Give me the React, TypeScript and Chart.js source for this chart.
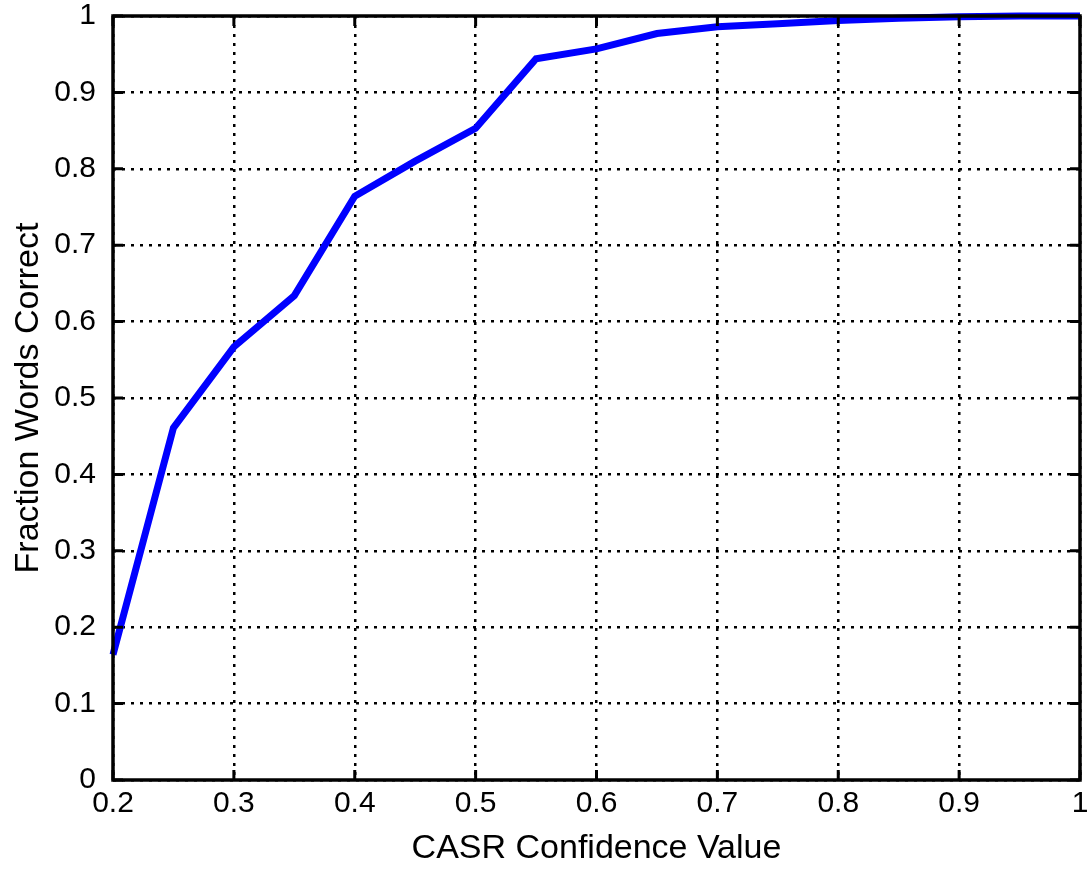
import React, { useEffect, useRef } from "react";
import { Chart, registerables } from "chart.js";

Chart.register(...registerables);

const xValues = [0.2, 0.25, 0.3, 0.35, 0.4, 0.45, 0.5, 0.55, 0.6, 0.65, 0.7, 0.75, 0.8, 0.85, 0.9, 0.95, 1.0];
const fractionCorrect = [0.164, 0.461, 0.567, 0.634, 0.764, 0.81, 0.853, 0.944, 0.957, 0.977, 0.986, 0.99, 0.994, 0.997, 0.999, 1.0, 1.0];
const xTickValues = [0.2, 0.3, 0.4, 0.5, 0.6, 0.7, 0.8, 0.9, 1.0];
const xTickLabels = ["0.2", "0.3", "0.4", "0.5", "0.6", "0.7", "0.8", "0.9", "1"];
const yTickValues = [0, 0.1, 0.2, 0.3, 0.4, 0.5, 0.6, 0.7, 0.8, 0.9, 1.0];
const yTickLabels = ["0", "0.1", "0.2", "0.3", "0.4", "0.5", "0.6", "0.7", "0.8", "0.9", "1"];
const xTitle = "CASR Confidence Value";
const yTitle = "Fraction Words Correct";

const FONT = "'Liberation Sans', Arial, Helvetica, sans-serif";

const boxPlugin = {
  id: "matlabBox",
  afterDatasetsDraw(chart: any) {
    const { ctx, chartArea } = chart;
    const xs = chart.scales.x;
    const ys = chart.scales.y;
    ctx.save();
    ctx.strokeStyle = "#000";
    ctx.lineWidth = 3;
    ctx.setLineDash([]);
    const tl = 10;
    ctx.beginPath();
    xTickValues.forEach((v) => {
      const px = xs.getPixelForValue(v);
      ctx.moveTo(px, chartArea.bottom);
      ctx.lineTo(px, chartArea.bottom - tl);
      ctx.moveTo(px, chartArea.top);
      ctx.lineTo(px, chartArea.top + tl);
    });
    yTickValues.forEach((v) => {
      const py = ys.getPixelForValue(v);
      ctx.moveTo(chartArea.left, py);
      ctx.lineTo(chartArea.left + tl, py);
      ctx.moveTo(chartArea.right, py);
      ctx.lineTo(chartArea.right - tl, py);
    });
    ctx.stroke();
    ctx.lineWidth = 3.5;
    ctx.strokeRect(chartArea.left, chartArea.top, chartArea.right - chartArea.left, chartArea.bottom - chartArea.top);
    ctx.restore();
  },
};

export default function App() {
  const ref = useRef<HTMLCanvasElement>(null);
  useEffect(() => {
    document.body.style.margin = "0";
    const canvas = ref.current!;
    const chart = new Chart(canvas, {
      type: "line",
      data: {
        datasets: [
          {
            data: xValues.map((x, i) => ({ x, y: fractionCorrect[i] })),
            borderColor: "#0000ff",
            borderWidth: 7,
            pointRadius: 0,
            tension: 0,
            clip: 4,
          },
        ],
      },
      options: {
        responsive: false,
        animation: false,
        plugins: { legend: { display: false }, tooltip: { enabled: false } },
        layout: { padding: { left: 0, top: 16, right: 9, bottom: 0 } },
        scales: {
          x: {
            type: "linear",
            min: 0.2,
            max: 1.0,
            afterBuildTicks: (s: any) => {
              s.ticks = xTickValues.map((v) => ({ value: v }));
            },
            afterFit: (s: any) => {
              s.height = 95;
              s.paddingLeft = 0;
              s.paddingRight = 0;
            },
            ticks: {
              color: "#000",
              font: { family: FONT, size: 30 },
              padding: 6,
              maxRotation: 0,
              autoSkip: false,
              callback: (v: any) => {
                const i = xTickValues.findIndex((t) => Math.abs(t - v) < 1e-6);
                return i >= 0 ? xTickLabels[i] : "";
              },
            },
            grid: {
              color: "#000",
              lineWidth: 2.5,
              tickLength: 0,
              drawTicks: false,
            },
            border: { display: false, dash: [3, 6] },
            title: {
              display: true,
              text: xTitle,
              color: "#000",
              font: { family: FONT, size: 34 },
              padding: { top: 0, bottom: 6 },
            },
          },
          y: {
            type: "linear",
            min: 0,
            max: 1,
            afterBuildTicks: (s: any) => {
              s.ticks = yTickValues.map((v) => ({ value: v }));
            },
            afterFit: (s: any) => {
              s.width = 113;
              s.paddingTop = 0;
              s.paddingBottom = 0;
            },
            ticks: {
              color: "#000",
              font: { family: FONT, size: 30 },
              padding: 17,
              autoSkip: false,
              callback: (v: any) => {
                const i = yTickValues.findIndex((t) => Math.abs(t - v) < 1e-6);
                return i >= 0 ? yTickLabels[i] : "";
              },
            },
            grid: {
              color: "#000",
              lineWidth: 2.5,
              tickLength: 0,
              drawTicks: false,
            },
            border: { display: false, dash: [3, 6] },
            title: {
              display: true,
              text: yTitle,
              color: "#000",
              font: { family: FONT, size: 34 },
              padding: { top: 8, bottom: 0 },
            },
          },
        },
      },
      plugins: [boxPlugin],
    });
    return () => chart.destroy();
  }, []);
  return (
    <div style={{ position: "absolute", left: 0, top: 0, width: 1089, height: 875, background: "#fff" }}>
      <canvas ref={ref} width={1089} height={875} />
    </div>
  );
}
